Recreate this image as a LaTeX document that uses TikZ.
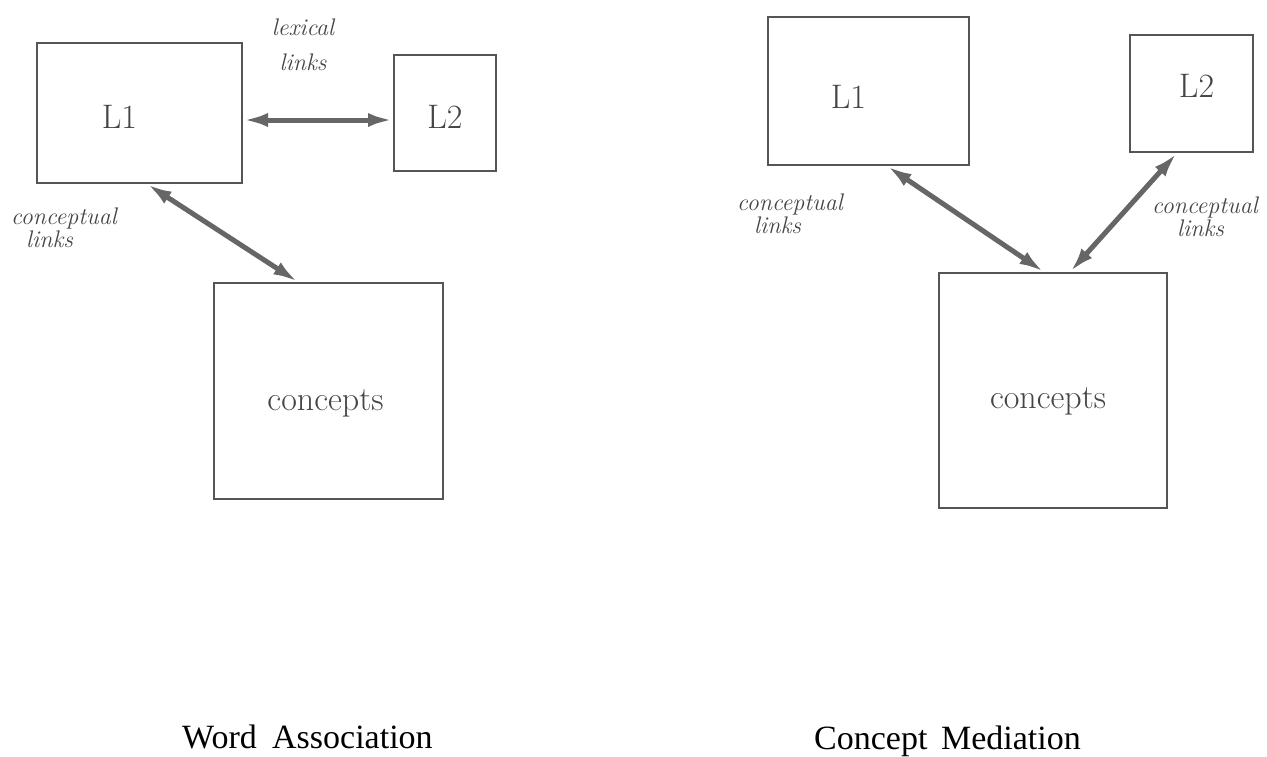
\documentclass[tikz,border=0pt]{standalone}
\usepackage{fontspec}
\newfontfamily\capfont{Liberation Serif}
\usetikzlibrary{arrows.meta}
\definecolor{boxgray}{HTML}{555555}
\definecolor{arrowgray}{HTML}{666666}
\definecolor{textgray}{HTML}{454545}
\begin{document}
\begin{tikzpicture}[x=1pt,y=-1pt,
  box/.style={draw=boxgray, line width=2pt, inner sep=0pt, rectangle},
  link/.style={draw=arrowgray, line width=5pt,
    {Latex[length=25pt,width=14pt]}-{Latex[length=25pt,width=14pt]}},
  boxtext/.style={font=\fontsize{34}{34}\selectfont, text=textgray, inner sep=0pt},
  lab/.style={font=\fontsize{24}{23}\selectfont\itshape, text=textgray, align=left, inner sep=0pt},
  captext/.style={font=\capfont\fontsize{34}{36}\selectfont, inner sep=0pt}]
\useasboundingbox (0,0) rectangle (1267,756);
\fill[white] (0,0) rectangle (1267,756);

% ---------- Word Association ----------
\node[box, minimum width=205pt, minimum height=140pt,
  label={[boxtext,xshift=-20pt,yshift=-4pt]center:L1}] (L1a) at (139.5,113) {};
\node[box, minimum width=102pt, minimum height=116pt,
  label={[boxtext,yshift=-4pt]center:L2}] (L2a) at (445,113) {};
\node[box, minimum width=229pt, minimum height=216pt,
  label={[boxtext,xshift=-3pt,yshift=-12pt]center:concepts}] (Ca) at (328.5,391) {};

\draw[link] ([yshift=-7pt]L1a.east) -- ([yshift=-7pt]L2a.west);
\draw[link] ([xshift=7.5pt]L1a.south) -- ([xshift=-30.5pt]Ca.north);

\node[lab, font=\fontsize{24}{35}\selectfont\itshape, align=center] (lexa) at (303,44.5) {lexical\\links};
\node[lab, anchor=west] (conca) at (11,227.5) {conceptual\\\hspace*{15pt}links};

\node[captext, anchor=base west] (capa) at (182,748) {Word\hspace{0.45em}Association};

% ---------- Concept Mediation ----------
\node[box, minimum width=201pt, minimum height=148pt,
  label={[boxtext,xshift=-20pt,yshift=-6pt]center:L1}] (L1b) at (868.5,91) {};
\node[box, minimum width=123pt, minimum height=117pt,
  label={[boxtext,xshift=5pt,yshift=8pt]center:L2}] (L2b) at (1191.5,93.5) {};
\node[box, minimum width=228pt, minimum height=235pt,
  label={[boxtext,xshift=-5pt,yshift=-11pt]center:concepts}] (Cb) at (1053,390.5) {};

\draw[link] ([xshift=18.5pt]L1b.south) -- ([xshift=-9pt]Cb.north);
\draw[link] ([xshift=-14.5pt]L2b.south) -- ([xshift=17pt]Cb.north);

\node[lab, anchor=west] (concb) at (737,213.5) {conceptual\\\hspace*{17pt}links};
\node[lab, anchor=west] (concc) at (1152,216.5) {conceptual\\\hspace*{25pt}links};

\node[captext, anchor=base west] (capb) at (814,749) {Concept\hspace{0.4em}Mediation};
\end{tikzpicture}
\end{document}
